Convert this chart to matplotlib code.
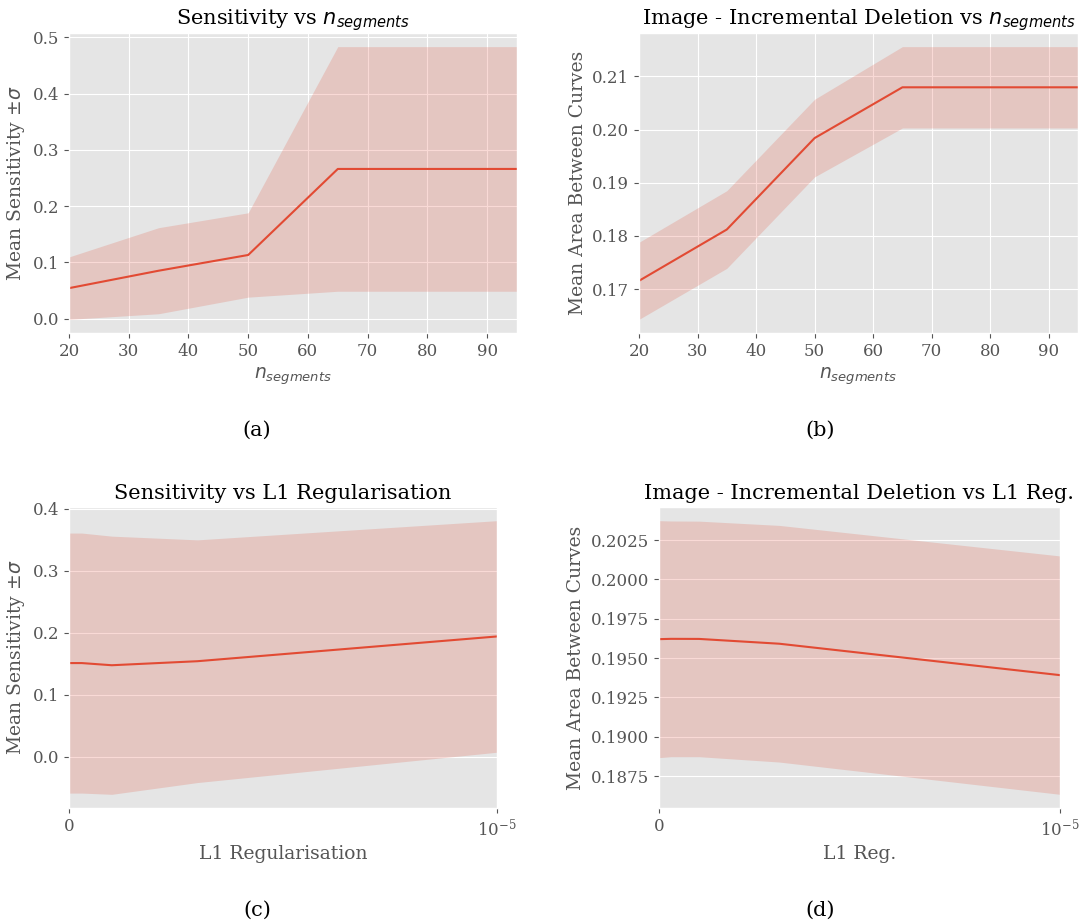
import matplotlib
matplotlib.use("Agg")
import matplotlib.pyplot as plt
import numpy as np

plt.style.use("ggplot")
plt.rcParams["font.family"] = ["DejaVu Serif"]
plt.rcParams["xtick.labelsize"] = 12
plt.rcParams["ytick.labelsize"] = 12
plt.rcParams["axes.labelsize"] = 13.5
plt.rcParams["axes.titlesize"] = 15

# ---- data ----
n_segments = [20, 35, 50, 65, 80, 95]
sens_seg_mean = [0.054, 0.085, 0.113, 0.266, 0.266, 0.266]
sens_seg_std = [0.0555, 0.0765, 0.075, 0.2175, 0.2175, 0.2175]

abc_seg_mean = [0.17155, 0.1812, 0.1984, 0.20795, 0.20795, 0.20795]
abc_seg_std = [0.00725, 0.0073, 0.0073, 0.00765, 0.00765, 0.00765]

l1_reg = [0.0, 3e-7, 1e-6, 3e-6, 1e-5]
sens_l1_mean = [0.151, 0.151, 0.1475, 0.154, 0.194]
sens_l1_std = [0.21, 0.21, 0.2085, 0.196, 0.187]

abc_l1_mean = [0.196205, 0.196225, 0.19622, 0.195915, 0.19392]
abc_l1_std = [0.007525, 0.007485, 0.00748, 0.007515, 0.00757]

W, H = 1080, 923
fig = plt.figure(figsize=(W / 100, H / 100), dpi=100)


def ax_at(x0, x1, y0, y1):
    return fig.add_axes([x0 / W, 1 - y1 / H, (x1 - x0) / W, (y1 - y0) / H])


def band(ax, x, m, s):
    x = np.asarray(x); m = np.asarray(m); s = np.asarray(s)
    ax.plot(x, m, color="#E24A33", lw=1.5)
    ax.fill_between(x, m - s, m + s, color="#E24A33", alpha=0.2, lw=0)
    ax.margins(x=0)


axA = ax_at(69, 517, 33, 333)
band(axA, n_segments, sens_seg_mean, sens_seg_std)
axA.set_title(r"Sensitivity vs $n_{segments}$")
axA.set_xlabel(r"$n_{segments}$")
axA.set_ylabel(r"Mean Sensitivity $\pm\sigma$")

axB = ax_at(639, 1078, 33, 333)
band(axB, n_segments, abc_seg_mean, abc_seg_std)
axB.set_title(r"Image - Incremental Deletion vs $n_{segments}$")
axB.set_xlabel(r"$n_{segments}$")
axB.set_ylabel("Mean Area Between Curves")

axC = ax_at(69, 497, 507, 808)
band(axC, l1_reg, sens_l1_mean, sens_l1_std)
axC.set_xscale("symlog", linthresh=1e-5)
axC.set_xlim(0, 1e-5)
axC.set_xticks([0, 1e-5])
axC.set_title("Sensitivity vs L1 Regularisation")
axC.set_xlabel("L1 Regularisation")
axC.set_ylabel(r"Mean Sensitivity $\pm\sigma$")

axD = ax_at(659, 1060, 507, 808)
band(axD, l1_reg, abc_l1_mean, abc_l1_std)
axD.set_xscale("symlog", linthresh=1e-5)
axD.set_xlim(0, 1e-5)
axD.set_xticks([0, 1e-5])
axD.set_title("Image - Incremental Deletion vs L1 Reg.")
axD.set_xlabel("L1 Reg.")
axD.set_ylabel("Mean Area Between Curves")

for lbl, x, y in [("(a)", 257, 430), ("(b)", 820, 430), ("(c)", 257, 910), ("(d)", 820, 910)]:
    fig.text(x / W, 1 - y / H, lbl, ha="center", va="center", fontsize=15)

fig.savefig("out.png", dpi=100)
